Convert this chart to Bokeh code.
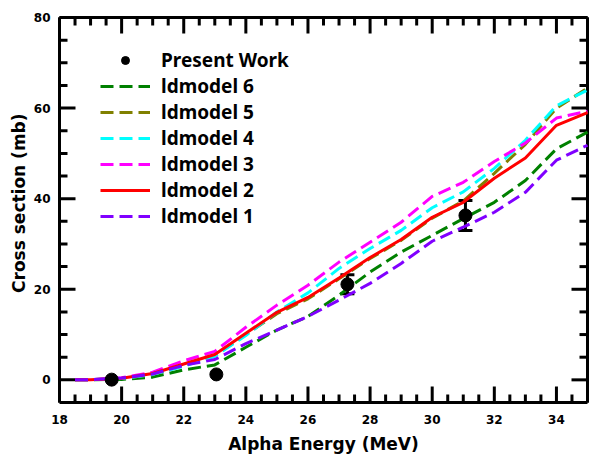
import math
import numpy as np
from bokeh.plotting import figure
from bokeh.models import (Range1d, Whisker, ColumnDataSource, Legend, LegendItem, TeeHead)
from bokeh.core.properties import value
from bokeh.embed import file_html
from bokeh.resources import INLINE

# ---- data ----
energy = [18.5, 19, 20, 21, 22, 23, 24, 25, 26, 27, 28, 29, 30, 31, 32, 33, 34, 35]
ldmodel1 = [0, 0.05, 0.4, 1.3, 3.2, 4.5, 8.0, 11.0, 14.0, 17.6, 21.3, 25.7, 30.6, 33.7, 37.0, 41.4, 48.5, 51.8]
ldmodel2 = [0, 0.05, 0.35, 1.4, 3.5, 5.6, 10.3, 14.9, 18.2, 22.5, 27.0, 31.0, 35.9, 39.2, 44.5, 49.0, 56.2, 59.0]
ldmodel3 = [0, 0.05, 0.45, 1.7, 4.2, 6.3, 11.6, 16.5, 20.9, 26.0, 30.4, 34.8, 40.5, 43.6, 48.2, 52.3, 57.8, 59.3]
ldmodel4 = [0, 0.05, 0.3, 1.2, 3.0, 5.2, 9.8, 15.0, 19.2, 24.6, 29.0, 33.0, 38.0, 41.5, 46.7, 52.9, 60.5, 64.0]
ldmodel5 = [0, 0.05, 0.3, 1.2, 3.1, 5.3, 10.0, 14.6, 17.9, 22.3, 26.8, 30.8, 35.7, 39.5, 45.6, 52.0, 60.0, 64.4]
ldmodel6 = [0, 0.0, 0.1, 0.6, 2.2, 3.3, 7.2, 11.0, 14.0, 18.7, 23.8, 28.2, 31.9, 35.6, 39.2, 44.0, 51.0, 54.7]

exp_energy = [19.68, 23.05, 27.27, 31.07]
exp_xs = [0.05, 1.2, 21.1, 36.3]
exp_err = [0.0, 0.0, 2.1, 3.3]

model_names = ["ldmodel 6", "ldmodel 5", "ldmodel 4", "ldmodel 3", "ldmodel 2", "ldmodel 1"]
model_values = [ldmodel6, ldmodel5, ldmodel4, ldmodel3, ldmodel2, ldmodel1]
model_colors = ["#008000", "#808000", "#00FFFF", "#FF00FF", "#FF0000", "#8000FF"]
model_dash = ["13 6", "13 6", "13 6", "13 6", "solid", "13 6"]

x_lo, x_hi = 18, 35
y_lo, y_hi = -5, 80
x_major = [18, 20, 22, 24, 26, 28, 30, 32, 34]
x_tick_labels = ["18", "20", "22", "24", "26", "28", "30", "32", "34"]
x_minor = [float(v) for v in np.arange(18.5, 35.01, 0.5) if v not in x_major]
y_major = [0, 20, 40, 60, 80]
y_tick_labels = ["0", "20", "40", "60", "80"]
y_minor = [v for v in range(5, 80, 5) if v not in y_major]
x_title = "Alpha Energy (MeV)"
y_title = "Cross section (mb)"

# ---- layout: plotting box occupies pixels 59..587 x 17..402 of the 589x454 canvas ----
W, H = 589, 454
box_left, box_right, box_top, box_bottom = 59, 587, 17, 402
ppx = (box_right - box_left) / (x_hi - x_lo)     # pixels per MeV
ppy = (box_bottom - box_top) / (y_hi - y_lo)     # pixels per mb
x_start = x_lo - box_left / ppx
x_end = x_hi + (W - box_right) / ppx
y_start = y_lo - (H - box_bottom) / ppy
y_end = y_hi + box_top / ppy

p = figure(width=W, height=H, x_range=Range1d(x_start, x_end), y_range=Range1d(y_start, y_end),
           output_backend="svg", toolbar_location=None,
           min_border_left=0, min_border_right=0, min_border_top=0, min_border_bottom=0)
p.xgrid.visible = False
p.ygrid.visible = False
p.xaxis.visible = False
p.yaxis.visible = False
p.outline_line_color = None
p.background_fill_color = "white"
p.border_fill_color = "white"

# plot box
p.segment(x0=[x_lo, x_lo, x_lo, x_hi], y0=[y_lo, y_hi, y_lo, y_lo],
          x1=[x_hi, x_hi, x_lo, x_hi], y1=[y_lo, y_hi, y_hi, y_hi],
          line_color="black", line_width=3)

# inward ticks on all four sides
dx_maj, dx_min = 16 / ppx, 8 / ppx
dy_maj, dy_min = 16 / ppy, 8 / ppy
tk = dict(line_color="black", line_width=3)
nxM, nxm, nyM, nym = len(x_major), len(x_minor), len(y_major), len(y_minor)
p.segment(x0=x_major, y0=[y_lo] * nxM, x1=x_major, y1=[y_lo + dy_maj] * nxM, **tk)
p.segment(x0=x_minor, y0=[y_lo] * nxm, x1=x_minor, y1=[y_lo + dy_min] * nxm, **tk)
p.segment(x0=x_major, y0=[y_hi] * nxM, x1=x_major, y1=[y_hi - dy_maj] * nxM, **tk)
p.segment(x0=x_minor, y0=[y_hi] * nxm, x1=x_minor, y1=[y_hi - dy_min] * nxm, **tk)
p.segment(x0=[x_lo] * nyM, y0=y_major, x1=[x_lo + dx_maj] * nyM, y1=y_major, **tk)
p.segment(x0=[x_lo] * nym, y0=y_minor, x1=[x_lo + dx_min] * nym, y1=y_minor, **tk)
p.segment(x0=[x_hi] * nyM, y0=y_major, x1=[x_hi - dx_maj] * nyM, y1=y_major, **tk)
p.segment(x0=[x_hi] * nym, y0=y_minor, x1=[x_hi - dx_min] * nym, y1=y_minor, **tk)

# tick labels and axis titles
txt = dict(text_font=value("DejaVu Sans"), text_font_style="bold", text_color="black")
p.text(x=x_major, y=[y_lo - 17 / ppy] * nxM, text=x_tick_labels,
       text_align="center", text_baseline="middle", text_font_size="12px", **txt)
p.text(x=[x_lo - 9 / ppx] * nyM, y=y_major, text=y_tick_labels,
       text_align="right", text_baseline="middle", text_font_size="12px", **txt)
p.text(x=[(x_lo + x_hi) / 2], y=[y_lo - 41 / ppy], text=[x_title],
       text_align="center", text_baseline="middle", text_font_size="17px", **txt)
p.text(x=[x_lo - 41 / ppx], y=[39], text=[y_title], angle=math.pi / 2,
       text_align="center", text_baseline="middle", text_font_size="17px", **txt)

renderers = {}
for name, vals, col, dash in zip(model_names, model_values, model_colors, model_dash):
    renderers[name] = p.line(energy, vals, line_color=col, line_width=3, line_dash=dash)

src = ColumnDataSource(dict(x=exp_energy, y=exp_xs))
err_src = ColumnDataSource(dict(x=exp_energy[2:],
                                lo=[v - e for v, e in zip(exp_xs[2:], exp_err[2:])],
                                hi=[v + e for v, e in zip(exp_xs[2:], exp_err[2:])]))
wh = Whisker(base="x", lower="lo", upper="hi", source=err_src, line_width=3, line_color="black",
             lower_head=TeeHead(size=14, line_width=3, line_color="black"),
             upper_head=TeeHead(size=14, line_width=3, line_color="black"))
p.add_layout(wh)
pts = p.scatter("x", "y", source=src, size=13, color="black")

items = [LegendItem(label="Present Work", renderers=[pts])]
for name in model_names:
    items.append(LegendItem(label=name, renderers=[renderers[name]]))

legend = Legend(items=items, location=(100, 225), orientation="vertical",
                border_line_color=None, background_fill_alpha=0,
                glyph_width=50, glyph_height=20, label_height=20,
                label_standoff=11, spacing=0, padding=0, margin=0,
                label_text_font="Noto Sans", label_text_font_style="bold",
                label_text_font_size="19px", label_text_color="black")
p.add_layout(legend)

open("out.html", "w").write(file_html(p, INLINE))
